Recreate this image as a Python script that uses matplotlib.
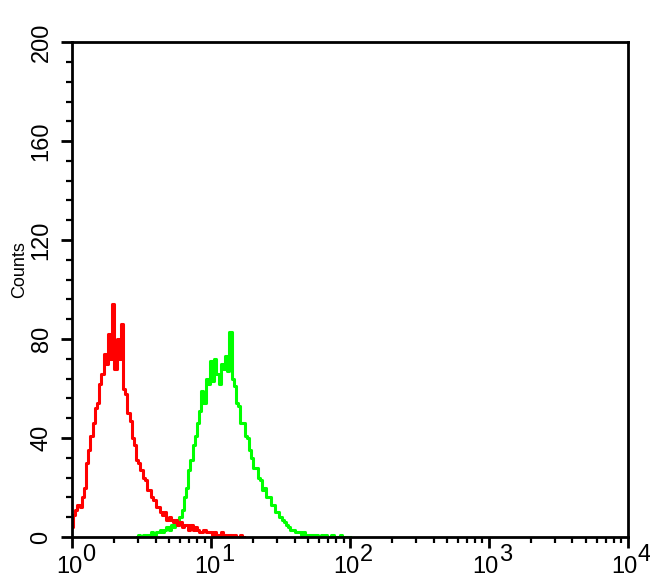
import numpy as np
import matplotlib
matplotlib.use("Agg")
import matplotlib.pyplot as plt
from matplotlib.ticker import MultipleLocator, LogLocator, NullFormatter, FixedLocator

plt.rcParams['font.family'] = ['Liberation Sans', 'DejaVu Sans']

# histogram channels: 64 channels per decade, 4 decades
CH_PER_DECADE = 64

# isotype control (red), channels 0..
red_start = 0
red_counts = [4, 9, 11, 13, 12, 16, 20, 30, 35, 41,
              46, 52, 54, 62, 66, 74, 70, 82, 72, 94,
              68, 80, 72, 86, 60, 58, 50, 47, 40, 37,
              31, 30, 27, 24, 23, 19, 19, 16, 15, 12,
              12, 10, 9, 10, 7, 8, 7, 6, 7, 5,
              6, 4, 5, 5, 3, 5, 3, 4, 3, 2,
              2, 3, 2, 2, 2, 1, 2, 1, 1, 2,
              1, 1, 0, 1, 0, 1, 0, 0, 1, 0]

# antibody stained sample (green), channels 30..
green_start = 30
green_counts = [0, 1, 0, 1, 1, 1, 1, 2, 1, 2,
                2, 3, 2, 3, 4, 3, 5, 4, 6, 5,
                8, 11, 16, 20, 27, 31, 37, 41, 46, 51,
                59, 54, 64, 62, 71, 63, 72, 66, 62, 70,
                68, 73, 67, 83, 64, 61, 54, 53, 46, 46,
                41, 40, 35, 32, 28, 28, 24, 23, 19, 20,
                16, 16, 13, 13, 10, 10, 8, 7, 6, 5,
                4, 3, 3, 2, 2, 2, 1, 2, 1, 1,
                1, 1, 1, 1, 0, 1, 0, 1, 0, 0,
                1, 0, 0, 0, 1, 0, 0, 0, 0]

y_ticks = [0, 40, 80, 120, 160, 200]
x_ticks = [1, 10, 100, 1000, 10000]
x_exponents = ['0', '1', '2', '3', '4']


def channel_x(start, n):
    ch = np.arange(start, start + n)
    return 10 ** (ch / CH_PER_DECADE)


fig = plt.figure(figsize=(6.5, 5.85), dpi=100)
ax = fig.add_axes([0.1108, 0.082, 0.855, 0.846])

ax.step(channel_x(green_start, len(green_counts)), green_counts,
        where='mid', color='#00ff00', lw=2.2)
ax.step(channel_x(red_start, len(red_counts)), red_counts,
        where='mid', color='#ff0000', lw=2.2)

ax.set_xscale('log')
ax.set_xlim(1, 1e4)
ax.set_ylim(0, 200)

ax.xaxis.set_major_locator(FixedLocator(x_ticks))
ax.xaxis.set_minor_locator(LogLocator(base=10, subs=np.arange(2, 10)))
ax.xaxis.set_minor_formatter(NullFormatter())
ax.set_xticklabels([])

# "10" with a full-size raised exponent, like the cytometer software
for xv, ex in zip(x_ticks, x_exponents):
    ax.annotate('10', xy=(xv, 0), xycoords=('data', 'axes fraction'),
                xytext=(10, -19), textcoords='offset pixels',
                ha='right', va='top', fontsize=17)
    ax.annotate(ex, xy=(xv, 0), xycoords=('data', 'axes fraction'),
                xytext=(10, -7), textcoords='offset pixels',
                ha='left', va='top', fontsize=17)

ax.yaxis.set_major_locator(FixedLocator(y_ticks))
ax.yaxis.set_minor_locator(MultipleLocator(8))
ax.set_yticklabels([str(v) for v in y_ticks], rotation=90, va='center')

ax.tick_params(which='major', length=8, width=2, labelsize=17, direction='out')
ax.tick_params(which='minor', length=4, width=1.6, direction='out')
ax.tick_params(axis='y', pad=6)

for sp in ax.spines.values():
    sp.set_linewidth(2)

ax.set_ylabel('Counts', fontsize=13)
ax.yaxis.set_label_coords(-0.079, 0.54)

fig.savefig('out.png', dpi=100)
